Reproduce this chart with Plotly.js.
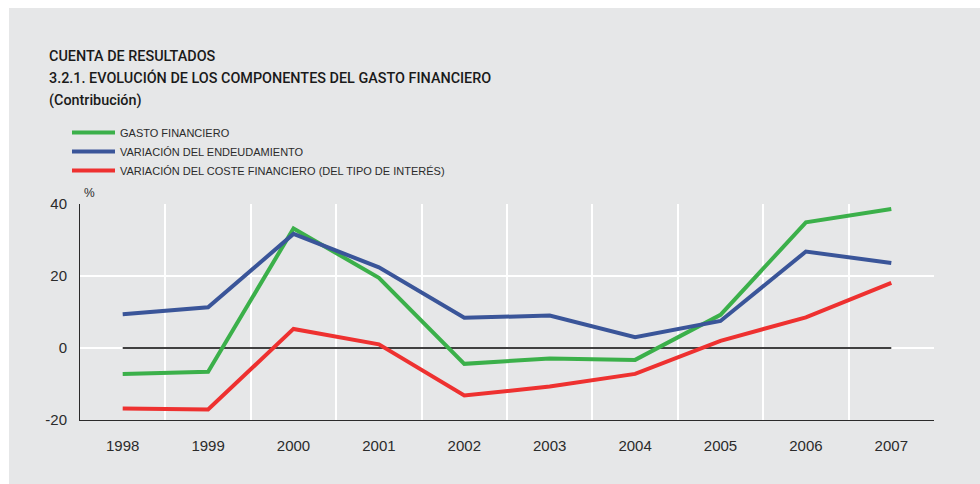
<!DOCTYPE html>
<html>
<head>
<meta charset="utf-8">
<script src="https://cdn.plot.ly/plotly-3.0.1.min.js"></script>
<style>
  html, body { margin: 0; padding: 0; background: #ffffff; width: 980px; height: 484px; overflow: hidden; }
  #chart { position: absolute; left: 9px; top: 8px; width: 971px; height: 476px; }
</style>
</head>
<body>
<div id="chart"></div>
<script>
const years = ["1998", "1999", "2000", "2001", "2002", "2003", "2004", "2005", "2006", "2007"];
const gastoFinanciero = [-7.2, -6.6, 33.2, 19.5, -4.4, -2.9, -3.3, 9.2, 34.9, 38.6];
const variacionEndeudamiento = [9.4, 11.3, 31.7, 22.4, 8.4, 9.0, 3.0, 7.5, 26.8, 23.6];
const variacionCoste = [-16.8, -17.1, 5.3, 1.0, -13.2, -10.7, -7.2, 2.0, 8.5, 18.1];
const baseline = years.map(() => 0);
const seriesNames = ["GASTO FINANCIERO", "VARIACIÓN DEL ENDEUDAMIENTO", "VARIACIÓN DEL COSTE FINANCIERO (DEL TIPO DE INTERÉS)"];
const titleLines = ["CUENTA DE RESULTADOS", "3.2.1. EVOLUCIÓN DE LOS COMPONENTES DEL GASTO FINANCIERO", "(Contribución)"];

// page pixel -> paper coords (plot area: x 80..934, y 204..420 in page px)
const px = x => (x - 80) / 854;
const py = y => (420 - y) / 216;

const FONT = "Liberation Sans, Arial, Helvetica, sans-serif";
const TITLEFONT = "Roboto, Liberation Sans, Arial, sans-serif";
const TXT = "#2b2b2b";

const traces = [
  { x: years, y: baseline, type: "scatter", mode: "lines", line: { color: "#000000", width: 1.4 }, showlegend: false, hoverinfo: "skip" },
  { x: years, y: gastoFinanciero, name: seriesNames[0], type: "scatter", mode: "lines", line: { color: "#3bb04a", width: 4 } },
  { x: years, y: variacionEndeudamiento, name: seriesNames[1], type: "scatter", mode: "lines", line: { color: "#3a5599", width: 4 } },
  { x: years, y: variacionCoste, name: seriesNames[2], type: "scatter", mode: "lines", line: { color: "#ee3130", width: 4 } }
];

const titleY = [56, 78, 100];
const annotations = titleLines.map((t, i) => ({
  text: t, xref: "paper", yref: "paper", x: px(47), y: py(titleY[i]),
  xanchor: "left", yanchor: "middle", showarrow: false,
  font: { family: TITLEFONT, size: 14.4, color: "#1a1a1a", weight: 500 }
}));
annotations.push({
  text: "%", xref: "paper", yref: "paper", x: px(82), y: py(193),
  xanchor: "left", yanchor: "middle", showarrow: false,
  font: { family: FONT, size: 12, color: TXT }
});

const layout = {
  width: 971, height: 476,
  paper_bgcolor: "#e6e7e8", plot_bgcolor: "#e6e7e8",
  margin: { l: 71, r: 46, t: 196, b: 64 },
  font: { family: FONT, color: TXT },
  showlegend: true,
  legend: {
    x: px(67), y: py(118), xanchor: "left", yanchor: "top",
    bgcolor: "rgba(0,0,0,0)", borderwidth: 0,
    font: { family: FONT, size: 11, color: TXT },
    itemwidth: 43, tracegroupgap: 0
  },
  xaxis: {
    type: "category", range: [-0.5, 9.5], tickson: "boundaries",
    showgrid: true, gridcolor: "#ffffff", gridwidth: 2,
    showline: true, linecolor: "#2b2b2b", linewidth: 1,
    ticks: "", ticklabelstandoff: 12,
    tickfont: { family: FONT, size: 15, color: TXT },
    zeroline: false, fixedrange: true
  },
  yaxis: {
    range: [-20, 40], tickvals: [-20, 0, 20, 40], ticktext: ["-20", "0", "20", "40"],
    showgrid: true, gridcolor: "#ffffff", gridwidth: 2,
    showline: true, linecolor: "#2b2b2b", linewidth: 1,
    ticks: "", ticklabelstandoff: 9,
    tickfont: { family: FONT, size: 15, color: TXT },
    zeroline: false, fixedrange: true
  },
  annotations: annotations
};

Plotly.newPlot("chart", traces, layout, { displayModeBar: false, staticPlot: true });
</script>
</body>
</html>
